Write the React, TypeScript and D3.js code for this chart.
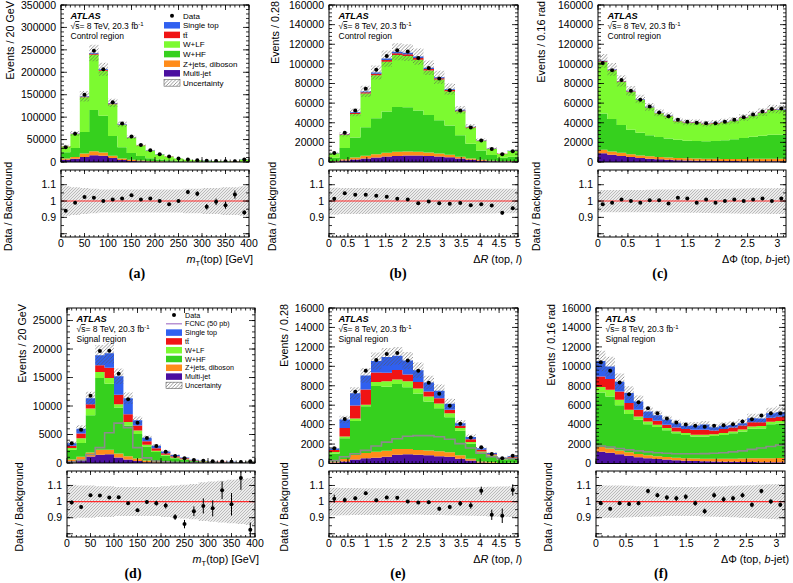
import React from 'react';
import * as d3 from 'd3';

const FONT = "'Liberation Sans', Arial, Helvetica, sans-serif";
const SERIF = "'Liberation Serif', 'Times New Roman', serif";

const COL: Record<string, string> = { mj: '#4b0fa0', zj: '#ff8c1a', whf: '#36d01e', wlf: '#7cfa30', tt: '#f01414', st: '#3060f0' };
const KEYS = ['mj', 'zj', 'whf', 'wlf', 'tt', 'st'];

// ---------- (a) control region, mT(top) ----------
const A_mj = [5000, 7000, 11000, 15000, 14000, 9000, 4500, 2500, 1500, 1000, 600, 400, 250, 150, 100, 80, 60, 50, 40, 100];
const A_zj = [3000, 4000, 8000, 9000, 7000, 5000, 3500, 2500, 1700, 1100, 800, 500, 350, 250, 180, 150, 100, 80, 70, 250];
const A_whf = [14000, 20000, 48000, 92000, 82000, 44000, 25000, 15000, 10000, 6500, 4300, 3000, 2000, 1300, 950, 750, 550, 450, 350, 1400];
const A_wlf = [12600, 31700, 77100, 123300, 100200, 70900, 49800, 33800, 23500, 16350, 10850, 7950, 5150, 3320, 2430, 2010, 1500, 1200, 925, 3970];
const A_tt = [300, 500, 1200, 2000, 2000, 1500, 1000, 700, 500, 350, 250, 200, 150, 100, 80, 60, 50, 40, 30, 100];
const A_st = [200, 400, 1000, 1800, 1800, 1300, 900, 600, 400, 300, 200, 150, 100, 80, 60, 50, 40, 30, 25, 80];
const A_data = [33000, 63000, 150000, 248000, 207000, 133000, 86000, 57000, 38000, 26000, 17000, 12000, 8000, 5500, 4000, 3000, 2300, 1800, 1500, 5500];
const A_ratio = [0.94, 0.99, 1.025, 1.02, 1.0, 1.01, 1.015, 1.035, 1.01, 1.015, 1.0, 0.98, 1.0, 1.055, 1.045, 0.965, 0.995, 0.975, 1.04, 0.93];
const A_rerr = [0.005, 0.004, 0.003, 0.002, 0.002, 0.003, 0.003, 0.004, 0.005, 0.006, 0.008, 0.009, 0.011, 0.013, 0.015, 0.017, 0.02, 0.022, 0.025, 0.013];
const A_unc = [0.09, 0.085, 0.08, 0.075, 0.07, 0.07, 0.07, 0.07, 0.07, 0.07, 0.07, 0.07, 0.07, 0.075, 0.075, 0.08, 0.08, 0.085, 0.085, 0.09];

// ---------- (b) control region, dR(top,l) ----------
const B_mj = [500, 1500, 2500, 3500, 4500, 5500, 6200, 6500, 6500, 6200, 5500, 4800, 3500, 2300, 1400, 800, 500, 500];
const B_zj = [400, 1200, 2000, 2800, 3500, 4000, 4300, 4300, 4000, 3600, 3100, 2500, 1800, 1200, 800, 500, 300, 400];
const B_whf = [3500, 11500, 20500, 29000, 36500, 42000, 45500, 45000, 42000, 38000, 34000, 30000, 22000, 15000, 9500, 5800, 3500, 4500];
const B_wlf = [4420, 13240, 23980, 34470, 43880, 50660, 52930, 52190, 51800, 45390, 41410, 34890, 24390, 16640, 9990, 6230, 3880, 5730];
const B_tt = [150, 500, 900, 1200, 1500, 1700, 1800, 1800, 1700, 1500, 1300, 1100, 800, 500, 300, 200, 120, 150];
const B_st = [100, 400, 700, 1000, 1300, 1500, 1600, 1600, 1500, 1300, 1100, 900, 650, 400, 250, 150, 100, 120];
const B_data = [9200, 29700, 52500, 74700, 94100, 108100, 113900, 112500, 106000, 95800, 85200, 73000, 52500, 35100, 21800, 13300, 7800, 10900];
const B_ratio = [1.014, 1.048, 1.038, 1.038, 1.032, 1.026, 1.014, 1.01, 0.986, 0.998, 0.986, 0.984, 0.988, 0.974, 0.98, 0.972, 0.928, 0.956];
const B_rerr = [0.01, 0.006, 0.004, 0.004, 0.003, 0.003, 0.003, 0.003, 0.003, 0.003, 0.003, 0.004, 0.004, 0.005, 0.007, 0.009, 0.011, 0.01];
const B_unc = [0.082, 0.08, 0.08, 0.08, 0.078, 0.078, 0.077, 0.077, 0.077, 0.077, 0.077, 0.077, 0.076, 0.076, 0.076, 0.076, 0.075, 0.075];

// ---------- (c) control region, dPhi(top,b-jet) ----------
const C_mj = [9000, 7500, 6200, 5000, 4000, 3300, 2700, 2200, 1900, 1600, 1400, 1200, 1100, 1000, 900, 850, 800, 750, 700, 700];
const C_zj = [3500, 3300, 3100, 2900, 2700, 2500, 2400, 2300, 2200, 2100, 2100, 2100, 2100, 2100, 2200, 2300, 2400, 2500, 2600, 2600];
const C_whf = [37000, 33000, 28500, 25000, 23000, 21500, 20500, 19500, 18500, 18000, 17800, 17800, 18200, 19000, 20000, 21200, 22500, 23500, 24500, 24500];
const C_wlf = [52460, 49640, 43970, 38800, 33720, 28240, 24010, 22610, 18990, 18140, 18560, 17470, 17960, 18340, 18890, 20540, 21670, 23310, 25480, 25170];
const C_tt = [600, 550, 500, 450, 400, 380, 360, 340, 320, 310, 300, 300, 300, 310, 320, 340, 360, 380, 400, 400];
const C_st = [500, 450, 400, 350, 320, 300, 280, 260, 250, 240, 240, 240, 240, 250, 260, 270, 290, 300, 320, 320];
const C_data = [101000, 93500, 83500, 72500, 63500, 56500, 50500, 46500, 43000, 41000, 40000, 39500, 39500, 41000, 43000, 45500, 48500, 51500, 54000, 54500];
const C_ratio = [0.98, 0.99, 1.01, 1.0, 0.99, 1.005, 1.005, 0.985, 1.02, 1.015, 0.99, 1.01, 0.99, 1.0, 1.01, 1.0, 1.01, 1.015, 1.0, 1.015];
const C_rerr = [0.003, 0.003, 0.003, 0.004, 0.004, 0.004, 0.005, 0.005, 0.005, 0.005, 0.005, 0.005, 0.005, 0.005, 0.005, 0.005, 0.005, 0.004, 0.004, 0.004];
const C_unc = [0.068, 0.068, 0.068, 0.068, 0.068, 0.069, 0.07, 0.07, 0.07, 0.071, 0.072, 0.073, 0.074, 0.075, 0.076, 0.077, 0.078, 0.078, 0.079, 0.08];

// ---------- (d) signal region, mT(top) ----------
const D_mj = [300, 600, 1150, 1440, 1520, 950, 600, 350, 150, 100, 60, 40, 30, 20, 15, 10, 8, 7, 5, 12];
const D_zj = [300, 500, 700, 900, 800, 700, 600, 450, 300, 200, 130, 83, 60, 34, 25, 20, 15, 13, 9, 22];
const D_whf = [1720, 2430, 6530, 12590, 11600, 8110, 5400, 4300, 2460, 1620, 1070, 730, 500, 290, 210, 160, 118, 102, 75, 185];
const D_wlf = [300, 800, 1200, 1020, 1010, 540, 600, 600, 300, 250, 170, 120, 85, 50, 36, 28, 20, 18, 13, 30];
const D_tt = [400, 850, 720, 1190, 1790, 1660, 1370, 900, 600, 420, 300, 210, 150, 90, 65, 50, 38, 33, 24, 60];
const D_st = [450, 850, 1060, 1760, 2560, 3270, 2790, 900, 600, 420, 280, 200, 140, 85, 60, 45, 35, 30, 22, 55];
const D_fcnc = [150, 450, 1500, 2700, 5300, 7000, 6200, 2700, 900, 350, 200, 130, 90, 60, 45, 35, 25, 20, 15, 30];
const D_data = [3450, 5830, 11780, 19640, 19700, 15650, 11190, 7080, 4400, 2980, 1960, 1250, 830, 535, 400, 300, 250, 200, 170, 300];
const D_ratio = [0.994, 0.967, 1.04, 1.0375, 1.025, 1.027, 0.99, 0.946, 0.998, 0.99, 0.975, 0.904, 0.86, 0.94, 0.973, 0.958, 1.07, 0.983, 1.146, 0.825];
const D_rerr = [0.012, 0.01, 0.008, 0.006, 0.006, 0.007, 0.008, 0.01, 0.012, 0.015, 0.018, 0.018, 0.026, 0.03, 0.047, 0.05, 0.055, 0.07, 0.073, 0.045];
const D_unc = [0.105, 0.1, 0.1, 0.095, 0.095, 0.09, 0.09, 0.09, 0.09, 0.09, 0.095, 0.1, 0.105, 0.11, 0.12, 0.125, 0.13, 0.135, 0.14, 0.145];

// ---------- (e) signal region, dR(top,l) ----------
const E_mj = [100, 210, 420, 540, 600, 700, 900, 950, 900, 850, 750, 700, 500, 300, 100, 60, 30, 40];
const E_zj = [100, 250, 450, 550, 600, 600, 600, 550, 500, 500, 500, 450, 350, 200, 100, 60, 30, 40];
const E_whf = [830, 2150, 3500, 4805, 6785, 6590, 6670, 6355, 5795, 5025, 4425, 3620, 2530, 1545, 845, 600, 330, 420];
const E_wlf = [150, 170, 260, 160, 410, 580, 480, 620, 510, 520, 510, 410, 270, 170, 180, 120, 65, 85];
const E_tt = [200, 860, 1350, 1560, 960, 860, 960, 690, 690, 520, 520, 340, 240, 280, 180, 120, 65, 85];
const E_st = [160, 900, 1250, 1450, 1200, 1640, 1480, 1440, 1200, 920, 790, 620, 240, 240, 160, 110, 60, 75];
const E_fcnc = [300, 700, 1000, 1350, 1800, 2200, 2550, 2800, 2870, 2870, 2750, 2500, 2050, 1600, 1050, 700, 500, 500];
const E_data = [1567, 4588, 7372, 9537, 10640, 11258, 11360, 10605, 9537, 8300, 7165, 5930, 4080, 2670, 1670, 980, 530, 800];
const E_ratio = [1.018, 1.01, 1.02, 1.052, 1.008, 1.026, 1.024, 1.0, 0.994, 0.996, 0.956, 0.966, 0.988, 0.976, 1.068, 0.918, 0.912, 1.072];
const E_rerr = [0.025, 0.015, 0.012, 0.01, 0.01, 0.01, 0.01, 0.01, 0.01, 0.011, 0.012, 0.013, 0.016, 0.02, 0.025, 0.032, 0.045, 0.035];
const E_unc = [0.086, 0.085, 0.084, 0.083, 0.083, 0.083, 0.082, 0.082, 0.082, 0.083, 0.084, 0.085, 0.086, 0.088, 0.09, 0.092, 0.094, 0.096];

// ---------- (f) signal region, dPhi(top,b-jet) ----------
const F_mj = [1200, 1100, 950, 800, 650, 550, 470, 400, 340, 290, 250, 220, 200, 180, 170, 160, 150, 140, 130, 130];
const F_zj = [500, 450, 400, 350, 330, 300, 280, 270, 260, 260, 260, 270, 280, 300, 320, 350, 380, 400, 420, 430];
const F_whf = [5600, 5350, 4650, 3950, 3520, 3200, 3000, 2750, 2500, 2380, 2270, 2291, 2340, 2460, 2610, 2780, 3050, 3070, 3490, 3550];
const F_wlf = [560, 680, 550, 430, 340, 280, 240, 220, 200, 200, 180, 180, 180, 190, 200, 210, 230, 240, 260, 270];
const F_tt = [1100, 1110, 870, 690, 690, 340, 410, 350, 410, 410, 510, 510, 400, 410, 410, 400, 440, 400, 400, 420];
const F_st = [1575, 1296, 998, 1023, 844, 673, 575, 527, 427, 353, 444, 540, 326, 342, 256, 254, 403, 388, 474, 480];
const F_fcnc = [1800, 1700, 1550, 1400, 1300, 1200, 1100, 1050, 1000, 1000, 1000, 1020, 1050, 1100, 1200, 1300, 1450, 1600, 1750, 1900];
const F_data = [10430, 9537, 8334, 7134, 6310, 5690, 5174, 4630, 4220, 4010, 3875, 3770, 3875, 3940, 4045, 4320, 4560, 4940, 5174, 5174];
const F_ratio = [0.99, 0.955, 0.99, 0.985, 0.99, 1.065, 1.04, 1.025, 1.02, 1.03, 0.99, 0.94, 1.04, 1.015, 1.02, 1.04, 0.98, 1.065, 1.0, 0.98];
const F_rerr = [0.01, 0.01, 0.011, 0.012, 0.013, 0.014, 0.014, 0.015, 0.016, 0.016, 0.016, 0.016, 0.016, 0.016, 0.016, 0.015, 0.015, 0.014, 0.014, 0.014];
const F_unc = [0.1, 0.1, 0.1, 0.098, 0.096, 0.094, 0.092, 0.09, 0.09, 0.09, 0.09, 0.092, 0.094, 0.096, 0.098, 0.1, 0.102, 0.105, 0.108, 0.11];

// ---------- tick labels ----------
const A_YTICKS = [0, 50000, 100000, 150000, 200000, 250000, 300000, 350000];
const BC_YTICKS = [0, 20000, 40000, 60000, 80000, 100000, 120000, 140000, 160000];
const D_YTICKS = [0, 5000, 10000, 15000, 20000, 25000];
const EF_YTICKS = [0, 2000, 4000, 6000, 8000, 10000, 12000, 14000, 16000];
const MT_XTICKS = [0, 50, 100, 150, 200, 250, 300, 350, 400];
const DR_XTICKS = [0, 0.5, 1, 1.5, 2, 2.5, 3, 3.5, 4, 4.5, 5];
const DPHI_XTICKS = [0, 0.5, 1, 1.5, 2, 2.5, 3];
const RATIO_DOMAIN = [0.78, 1.19];
const RATIO_MAJOR = [0.8, 0.9, 1.0, 1.1];
const RATIO_LABELS = [0.9, 1, 1.1];

const LEG_CR = ['data', 'st', 'tt', 'wlf', 'whf', 'zj', 'mj', 'unc'];
const LEG_SR = ['data', 'fcnc', 'st', 'tt', 'wlf', 'whf', 'zj', 'mj', 'unc'];
const LEG_TEXT: Record<string, string> = {
  data: 'Data', fcnc: 'FCNC (50 pb)', st: 'Single top', tt: 'tt\u0304', wlf: 'W+LF', whf: 'W+HF',
  zj: 'Z+jets, diboson', mj: 'Multi-jet', unc: 'Uncertainty',
};

type Cfg = {
  id: string; x0: number; x1: number; top: number; bot: number; rtop: number; rbot: number;
  xmin: number; xmax: number; binW: number; ymax: number; yTicks: number[]; yMinor: number;
  xTicks: number[]; xMinor: number; layers: Record<string, number[]>;
  data: number[]; ratio: number[]; rerr: number[]; unc: number[]; fcnc?: number[];
  yTitle: string; yTitleX: number; rTitleX: number; xTitle: string; tag: string; tagX: number;
  region: string; legend?: { keys: string[]; bx: number; y0: number; step: number; fs: number };
};

const fmt = (v: number) => String(v);

function XTitle({ kind }: { kind: string }) {
  if (kind === 'mt') return (<><tspan fontStyle="italic">m</tspan><tspan dy={2.5} fontSize={7.5}>T</tspan><tspan dy={-2.5}>(top) [GeV]</tspan></>);
  if (kind === 'dr') return (<><tspan>Δ</tspan><tspan fontStyle="italic">R</tspan><tspan> (top, </tspan><tspan fontStyle="italic">l</tspan><tspan>)</tspan></>);
  return (<><tspan>ΔΦ (top, </tspan><tspan fontStyle="italic">b</tspan><tspan>-jet)</tspan></>);
}

function Legend({ lg }: { lg: NonNullable<Cfg['legend']> }) {
  const bw = 16, bh = 6.5;
  return (
    <g fontFamily={FONT} fontSize={lg.fs}>
      {lg.keys.map((k, i) => {
        const cy = lg.y0 + i * lg.step;
        let sym: React.ReactNode;
        if (k === 'data') sym = <circle cx={lg.bx + bw / 2} cy={cy} r={2} fill="#000" />;
        else if (k === 'fcnc') sym = <line x1={lg.bx} x2={lg.bx + bw} y1={cy} y2={cy} stroke="#a878c8" strokeWidth={1.2} />;
        else if (k === 'unc') sym = <rect x={lg.bx} y={cy - bh / 2} width={bw} height={bh} fill="url(#hatch)" stroke="#444" strokeWidth={0.5} />;
        else sym = <rect x={lg.bx} y={cy - bh / 2} width={bw} height={bh} fill={COL[k]} />;
        return (
          <g key={k}>
            {sym}
            <text x={lg.bx + bw + 3} y={cy} dy="0.35em">{LEG_TEXT[k]}</text>
          </g>
        );
      })}
    </g>
  );
}

function Panel({ p }: { p: Cfg }) {
  const xs = d3.scaleLinear().domain([p.xmin, p.xmax]).range([p.x0, p.x1]);
  const ys = d3.scaleLinear().domain([0, p.ymax]).range([p.bot, p.top]);
  const rs = d3.scaleLinear().domain(RATIO_DOMAIN).range([p.rbot, p.rtop]);
  const n = p.data.length;
  const lo = d3.range(n).map(i => p.xmin + i * p.binW);
  const hi = lo.map(v => Math.min(v + p.binW, p.xmax));
  const mid = lo.map((v, i) => (v + hi[i]) / 2);
  const rows = d3.range(n).map(i => { const r: any = {}; KEYS.forEach(k => { r[k] = p.layers[k][i]; }); return r; });
  const series = d3.stack().keys(KEYS)(rows);
  const total = series[series.length - 1].map(d => d[1]);
  const area = d3.area<any>().x(d => d.x).y0(d => d.y0).y1(d => d.y1).curve(d3.curveStepAfter);
  const line = d3.line<any>().x(d => d[0]).y(d => d[1]).curve(d3.curveStepAfter);
  const step = (a0: number[], a1: number[]) => {
    const pts = lo.map((x, i) => ({ x: xs(x), y0: a0[i], y1: a1[i] }));
    pts.push({ x: xs(hi[n - 1]), y0: a0[n - 1], y1: a1[n - 1] });
    return area(pts) || '';
  };
  const mainClip = `clip-main-${p.id}`;
  const ratClip = `clip-rat-${p.id}`;
  const eps = 1e-9;
  const yMinor = d3.range(0, p.ymax + eps, p.yMinor);
  const xMinor = d3.range(p.xmin, p.xmax + eps, p.xMinor);
  const rMinor = d3.range(0.8, 1.19, 0.05);
  const W = p.x1 - p.x0;
  let fcncPath = '';
  if (p.fcnc) {
    const pts: [number, number][] = [[xs(lo[0]), ys(0)]];
    p.fcnc.forEach((v, i) => pts.push([xs(lo[i]), ys(v)]));
    pts.push([xs(hi[n - 1]), ys(p.fcnc[n - 1])]);
    fcncPath = (line(pts) || '') + `L${xs(hi[n - 1])},${ys(0)}`;
  }
  const tk = { stroke: '#000', strokeWidth: 0.8 };
  return (
    <g>
      <defs>
        <clipPath id={mainClip}><rect x={p.x0} y={p.top} width={W} height={p.bot - p.top} /></clipPath>
        <clipPath id={ratClip}><rect x={p.x0} y={p.rtop} width={W} height={p.rbot - p.rtop} /></clipPath>
      </defs>
      {/* main stack */}
      <g clipPath={`url(#${mainClip})`}>
        {series.map(s => (
          <path key={s.key} d={step(s.map(d => ys(d[0])), s.map(d => ys(d[1])))} fill={COL[s.key]} />
        ))}
        {p.fcnc && <path d={fcncPath} fill="none" stroke="#8c8c8c" strokeWidth={1.6} />}
        <path d={step(total.map((t, i) => ys(t * (1 - p.unc[i]))), total.map((t, i) => ys(t * (1 + p.unc[i]))))} fill="url(#hatch)" />
        {p.data.map((v, i) => <circle key={i} cx={xs(mid[i])} cy={ys(v)} r={2} fill="#000" />)}
      </g>
      {/* ratio */}
      <g clipPath={`url(#${ratClip})`}>
        <path d={step(p.unc.map(u => rs(1 - u)), p.unc.map(u => rs(1 + u)))} fill="url(#hatchR)" />
        <line x1={p.x0} x2={p.x1} y1={rs(1)} y2={rs(1)} stroke="#ff2a2a" strokeWidth={1.1} />
        {p.ratio.map((v, i) => (
          <g key={i}>
            <line x1={xs(mid[i])} x2={xs(mid[i])} y1={rs(v - p.rerr[i])} y2={rs(v + p.rerr[i])} stroke="#000" strokeWidth={1} />
            <circle cx={xs(mid[i])} cy={rs(v)} r={2} fill="#000" />
          </g>
        ))}
      </g>
      {/* frames */}
      <rect x={p.x0} y={p.top} width={W} height={p.bot - p.top} fill="none" stroke="#000" strokeWidth={1} />
      <rect x={p.x0} y={p.rtop} width={W} height={p.rbot - p.rtop} fill="none" stroke="#000" strokeWidth={1} />
      {/* main y ticks */}
      {yMinor.map((v, i) => (
        <g key={'ym' + i}>
          <line x1={p.x0} x2={p.x0 + 3} y1={ys(v)} y2={ys(v)} {...tk} />
          <line x1={p.x1} x2={p.x1 - 3} y1={ys(v)} y2={ys(v)} {...tk} />
        </g>
      ))}
      {p.yTicks.map(v => (
        <g key={'yM' + v}>
          <line x1={p.x0} x2={p.x0 + 6} y1={ys(v)} y2={ys(v)} {...tk} />
          <line x1={p.x1} x2={p.x1 - 6} y1={ys(v)} y2={ys(v)} {...tk} />
          <text x={p.x0 - 5} y={ys(v)} dy="0.36em" textAnchor="end" fontFamily={FONT} fontSize={10.5}>{fmt(v)}</text>
        </g>
      ))}
      {/* x ticks main + ratio */}
      {xMinor.map((v, i) => (
        <g key={'xm' + i}>
          <line x1={xs(v)} x2={xs(v)} y1={p.bot} y2={p.bot - 2.5} {...tk} />
          <line x1={xs(v)} x2={xs(v)} y1={p.top} y2={p.top + 2.5} {...tk} />
          <line x1={xs(v)} x2={xs(v)} y1={p.rbot} y2={p.rbot - 2} {...tk} />
          <line x1={xs(v)} x2={xs(v)} y1={p.rtop} y2={p.rtop + 2} {...tk} />
        </g>
      ))}
      {p.xTicks.map(v => (
        <g key={'xM' + v}>
          <line x1={xs(v)} x2={xs(v)} y1={p.bot} y2={p.bot - 5} {...tk} />
          <line x1={xs(v)} x2={xs(v)} y1={p.top} y2={p.top + 5} {...tk} />
          <line x1={xs(v)} x2={xs(v)} y1={p.rbot} y2={p.rbot - 4} {...tk} />
          <line x1={xs(v)} x2={xs(v)} y1={p.rtop} y2={p.rtop + 4} {...tk} />
          <text x={xs(v)} y={p.rbot + 10} textAnchor="middle" fontFamily={FONT} fontSize={10.5}>{fmt(v)}</text>
        </g>
      ))}
      {/* ratio y ticks */}
      {rMinor.map((v, i) => (
        <g key={'rm' + i}>
          <line x1={p.x0} x2={p.x0 + 3} y1={rs(v)} y2={rs(v)} {...tk} />
          <line x1={p.x1} x2={p.x1 - 3} y1={rs(v)} y2={rs(v)} {...tk} />
        </g>
      ))}
      {RATIO_MAJOR.map(v => (
        <g key={'rM' + v}>
          <line x1={p.x0} x2={p.x0 + 6} y1={rs(v)} y2={rs(v)} {...tk} />
          <line x1={p.x1} x2={p.x1 - 6} y1={rs(v)} y2={rs(v)} {...tk} />
        </g>
      ))}
      {RATIO_LABELS.map(v => (
        <text key={'rl' + v} x={p.x0 - 5} y={rs(v)} dy="0.36em" textAnchor="end" fontFamily={FONT} fontSize={10.5}>{fmt(v)}</text>
      ))}
      {/* titles */}
      <text transform={`translate(${p.yTitleX},${p.top - 4}) rotate(-90)`} textAnchor="end" dominantBaseline="central" fontFamily={FONT} fontSize={10.8}>{p.yTitle}</text>
      <text transform={`translate(${p.rTitleX},${(p.rtop + p.rbot) / 2 + 3}) rotate(-90)`} textAnchor="middle" dominantBaseline="central" fontFamily={FONT} fontSize={10.8}>Data / Background</text>
      <text x={p.x1 + 4} y={p.rbot + 26} textAnchor="end" fontFamily={FONT} fontSize={10.8}><XTitle kind={p.xTitle} /></text>
      <text x={p.tagX} y={p.rbot + 41} textAnchor="middle" fontFamily={SERIF} fontWeight="bold" fontSize={14}>{p.tag}</text>
      {/* ATLAS label */}
      <g fontFamily={FONT}>
        <text x={p.x0 + 9.5} y={p.top + 13.5} fontWeight="bold" fontStyle="italic" fontSize={9.3}>ATLAS</text>
        <text x={p.x0 + 9.5} y={p.top + 24} fontSize={8.5}>
          <tspan>√</tspan><tspan textDecoration="overline">s</tspan><tspan>= 8 TeV,  20.3 fb</tspan><tspan dy={-3.5} fontSize={6}>-1</tspan>
        </text>
        <text x={p.x0 + 9.5} y={p.top + 34} fontSize={8.5}>{p.region}</text>
      </g>
      {p.legend && <Legend lg={p.legend} />}
    </g>
  );
}

const PANELS: Cfg[] = [
  {
    id: 'a', x0: 61, x1: 249, top: 5, bot: 162, rtop: 170, rbot: 237, xmin: 0, xmax: 400, binW: 20, ymax: 350000,
    yTicks: A_YTICKS, yMinor: 10000, xTicks: MT_XTICKS, xMinor: 10,
    layers: { mj: A_mj, zj: A_zj, whf: A_whf, wlf: A_wlf, tt: A_tt, st: A_st },
    data: A_data, ratio: A_ratio, rerr: A_rerr, unc: A_unc,
    yTitle: 'Events / 20 GeV', yTitleX: 10, rTitleX: 8, xTitle: 'mt', tag: '(a)', tagX: 137, region: 'Control region',
    legend: { keys: LEG_CR, bx: 164, y0: 15.7, step: 9.6, fs: 8 },
  },
  {
    id: 'b', x0: 329, x1: 518, top: 5, bot: 162, rtop: 170, rbot: 237, xmin: 0, xmax: 5, binW: 5 / 18, ymax: 160000,
    yTicks: BC_YTICKS, yMinor: 4000, xTicks: DR_XTICKS, xMinor: 0.1,
    layers: { mj: B_mj, zj: B_zj, whf: B_whf, wlf: B_wlf, tt: B_tt, st: B_st },
    data: B_data, ratio: B_ratio, rerr: B_rerr, unc: B_unc,
    yTitle: 'Events / 0.28', yTitleX: 275, rTitleX: 272, xTitle: 'dr', tag: '(b)', tagX: 398, region: 'Control region',
  },
  {
    id: 'c', x0: 598, x1: 786, top: 5, bot: 162, rtop: 170, rbot: 237, xmin: 0, xmax: Math.PI, binW: Math.PI / 20, ymax: 160000,
    yTicks: BC_YTICKS, yMinor: 4000, xTicks: DPHI_XTICKS, xMinor: 0.1,
    layers: { mj: C_mj, zj: C_zj, whf: C_whf, wlf: C_wlf, tt: C_tt, st: C_st },
    data: C_data, ratio: C_ratio, rerr: C_rerr, unc: C_unc,
    yTitle: 'Events / 0.16 rad', yTitleX: 541, rTitleX: 536, xTitle: 'dphi', tag: '(c)', tagX: 660, region: 'Control region',
  },
  {
    id: 'd', x0: 67, x1: 255, top: 308, bot: 463, rtop: 471, rbot: 537, xmin: 0, xmax: 400, binW: 20, ymax: 27200,
    yTicks: D_YTICKS, yMinor: 1000, xTicks: MT_XTICKS, xMinor: 10,
    layers: { mj: D_mj, zj: D_zj, whf: D_whf, wlf: D_wlf, tt: D_tt, st: D_st },
    data: D_data, ratio: D_ratio, rerr: D_rerr, unc: D_unc, fcnc: D_fcnc,
    yTitle: 'Events / 20 GeV', yTitleX: 22, rTitleX: 19, xTitle: 'mt', tag: '(d)', tagX: 133, region: 'Signal region',
    legend: { keys: LEG_SR, bx: 166, y0: 315, step: 8.8, fs: 7.2 },
  },
  {
    id: 'e', x0: 329, x1: 518, top: 308, bot: 463.5, rtop: 471, rbot: 537, xmin: 0, xmax: 5, binW: 5 / 18, ymax: 16000,
    yTicks: EF_YTICKS, yMinor: 400, xTicks: DR_XTICKS, xMinor: 0.1,
    layers: { mj: E_mj, zj: E_zj, whf: E_whf, wlf: E_wlf, tt: E_tt, st: E_st },
    data: E_data, ratio: E_ratio, rerr: E_rerr, unc: E_unc, fcnc: E_fcnc,
    yTitle: 'Events / 0.28', yTitleX: 284, rTitleX: 284, xTitle: 'dr', tag: '(e)', tagX: 398, region: 'Signal region',
  },
  {
    id: 'f', x0: 596, x1: 785, top: 308, bot: 463.5, rtop: 471, rbot: 537, xmin: 0, xmax: Math.PI, binW: Math.PI / 20, ymax: 16000,
    yTicks: EF_YTICKS, yMinor: 400, xTicks: DPHI_XTICKS, xMinor: 0.1,
    layers: { mj: F_mj, zj: F_zj, whf: F_whf, wlf: F_wlf, tt: F_tt, st: F_st },
    data: F_data, ratio: F_ratio, rerr: F_rerr, unc: F_unc, fcnc: F_fcnc,
    yTitle: 'Events / 0.16 rad', yTitleX: 551, rTitleX: 548, xTitle: 'dphi', tag: '(f)', tagX: 661, region: 'Signal region',
  },
];

export default function App() {
  return (
    <svg width={793} height={583} viewBox="0 0 793 583" style={{ position: 'absolute', left: 0, top: 0, background: '#fff' }}>
      <defs>
        <pattern id="hatch" patternUnits="userSpaceOnUse" width={3.5} height={3.5}>
          <path d="M-1,1 L1,-1 M0,3.5 L3.5,0 M2.5,4.5 L4.5,2.5" stroke="#555" strokeWidth={0.6} />
        </pattern>
        <pattern id="hatchR" patternUnits="userSpaceOnUse" width={3} height={3}>
          <rect width={3} height={3} fill="#ececec" />
          <path d="M-1,1 L1,-1 M0,3 L3,0 M2,4 L4,2" stroke="#999" strokeWidth={0.6} />
        </pattern>
      </defs>
      <rect width={793} height={583} fill="#fff" />
      {PANELS.map(p => <Panel key={p.id} p={p} />)}
    </svg>
  );
}
